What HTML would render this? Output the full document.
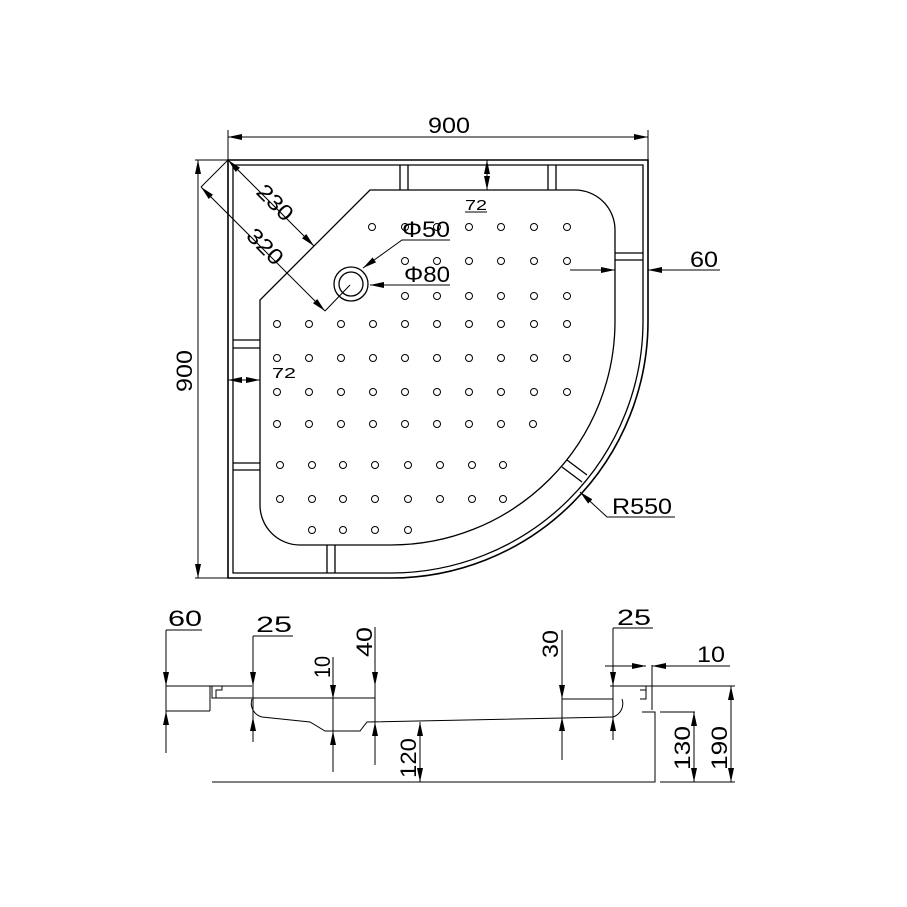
<!DOCTYPE html>
<html><head><meta charset="utf-8"><style>html,body{margin:0;padding:0;background:#fff}svg{display:block}text{font-family:"Liberation Sans",sans-serif;font-size:22px;fill:#000}</style></head>
<body>
<svg width="907" height="907" viewBox="0 0 907 907" xmlns="http://www.w3.org/2000/svg">
<defs>
<marker id="a" viewBox="0 0 14 6" refX="14" refY="3" markerWidth="14" markerHeight="6" markerUnits="userSpaceOnUse" orient="auto-start-reverse"><path d="M0,0L14,3L0,6Z" fill="#000"/></marker>
</defs>
<g fill="none" stroke="#000" stroke-width="1.3">
<!-- outer -->
<path d="M228,160H648V321A257,257 0 0 1 391,578H228Z" stroke-width="1.6"/>
<path d="M233,165H643V321A252,252 0 0 1 391,573H233Z"/>
<!-- tray -->
<path d="M370,190H575A40,40 0 0 1 615,230V321A224,224 0 0 1 391,545H300A40,40 0 0 1 260,505V300Z"/>
<!-- ribs -->
<path d="M400,165V190M408,165V190M548,165V190M556,165V190M615,253H643M615,260H643M233,340H260M233,348H260M233,463H260M233,470H260M327,545V573M335,545V573M567,460L587,475M562,467L582,482"/>
<!-- drain -->
<circle cx="351" cy="284" r="17"/><circle cx="351" cy="284" r="12"/>
</g>
<g fill="none" stroke="#000" stroke-width="1">
<!-- dots -->
<g id="d">
<circle cx="372" cy="227" r="3.5"/><circle cx="405" cy="227" r="3.5"/><circle cx="437" cy="227" r="3.5"/><circle cx="469" cy="227" r="3.5"/><circle cx="501" cy="227" r="3.5"/><circle cx="534" cy="227" r="3.5"/><circle cx="567" cy="227" r="3.5"/>
<circle cx="405" cy="261" r="3.5"/><circle cx="437" cy="261" r="3.5"/><circle cx="469" cy="261" r="3.5"/><circle cx="501" cy="261" r="3.5"/><circle cx="534" cy="261" r="3.5"/><circle cx="567" cy="261" r="3.5"/>
<circle cx="405" cy="296" r="3.5"/><circle cx="437" cy="296" r="3.5"/><circle cx="469" cy="296" r="3.5"/><circle cx="501" cy="296" r="3.5"/><circle cx="534" cy="296" r="3.5"/><circle cx="567" cy="296" r="3.5"/>
</g>
<g id="r10"><circle cx="277" cy="324" r="3.5"/><circle cx="309" cy="324" r="3.5"/><circle cx="341" cy="324" r="3.5"/><circle cx="373" cy="324" r="3.5"/><circle cx="405" cy="324" r="3.5"/><circle cx="437" cy="324" r="3.5"/><circle cx="469" cy="324" r="3.5"/><circle cx="501" cy="324" r="3.5"/><circle cx="534" cy="324" r="3.5"/><circle cx="567" cy="324" r="3.5"/></g>
<use href="#r10" y="34"/><use href="#r10" y="68"/>
<g transform="translate(0,100)"><circle cx="277" cy="324" r="3.5"/><circle cx="309" cy="324" r="3.5"/><circle cx="341" cy="324" r="3.5"/><circle cx="373" cy="324" r="3.5"/><circle cx="405" cy="324" r="3.5"/><circle cx="437" cy="324" r="3.5"/><circle cx="469" cy="324" r="3.5"/><circle cx="501" cy="324" r="3.5"/><circle cx="533" cy="324" r="3.5"/></g>
<g id="r8"><circle cx="280" cy="465" r="3.5"/><circle cx="312" cy="465" r="3.5"/><circle cx="343" cy="465" r="3.5"/><circle cx="375" cy="465" r="3.5"/><circle cx="408" cy="465" r="3.5"/><circle cx="440" cy="465" r="3.5"/><circle cx="472" cy="465" r="3.5"/><circle cx="503" cy="465" r="3.5"/></g>
<use href="#r8" y="34"/>
<circle cx="312" cy="530" r="3.5"/><circle cx="343" cy="530" r="3.5"/><circle cx="375" cy="530" r="3.5"/><circle cx="408" cy="530" r="3.5"/>
<!-- dimension lines top view -->
<path d="M228,130V160M648,130V160M195,160H228M195,578H228"/>
<path d="M228,137H648" marker-start="url(#a)" marker-end="url(#a)"/>
<path d="M198,160V578" marker-start="url(#a)" marker-end="url(#a)"/>
<path d="M228,160L314,246" marker-start="url(#a)" marker-end="url(#a)"/>
<path d="M228,160L201,187"/>
<path d="M201,187L325,311" marker-start="url(#a)" marker-end="url(#a)"/>
<path d="M325,311L350,285"/>
<path d="M450,240H402L363,268" marker-end="url(#a)"/>
<path d="M450,285H370" marker-end="url(#a)"/>
<path d="M487,160V190" marker-start="url(#a)" marker-end="url(#a)"/>
<path d="M465,212H487"/>
<path d="M228,380H260" marker-start="url(#a)" marker-end="url(#a)"/>
<path d="M570,270H615" marker-end="url(#a)"/><path d="M720,270H648" marker-end="url(#a)"/>
<path d="M675,517H607L580,492" marker-end="url(#a)"/>
<!-- section -->
<path d="M166,686H252M166,711H210M210,686V711M212,686V698H216V690H222V686M216,698H375M252,699A14,14 0 0 0 262,717L310,722L325,731H360L367,722L613,717M212,782H650"/>
<path d="M610,686H735M613,699H562M640,690H646V686M613,717A14,14 0 0 0 622,699M646,686V699H640M652,665V710M642,712H655V782H642M660,712H695M660,782H735"/>
<path d="M166,630V753M166,630H202M253,636V742M253,636H293M333,657V772M375,627V765M420,722V782M562,630V760M613,628V740M613,628H653"/>
<path d="M166,665V686" marker-end="url(#a)"/><path d="M166,732V711" marker-end="url(#a)"/>
<path d="M253,665V686" marker-end="url(#a)"/><path d="M253,740V717" marker-end="url(#a)"/>
<path d="M333,680V699" marker-end="url(#a)"/><path d="M333,752V731" marker-end="url(#a)"/>
<path d="M375,660V686" marker-end="url(#a)"/><path d="M375,745V722" marker-end="url(#a)"/>
<path d="M420,722V782" marker-start="url(#a)" marker-end="url(#a)"/>
<path d="M562,675V699" marker-end="url(#a)"/><path d="M562,740V717" marker-end="url(#a)"/>
<path d="M613,665V686" marker-end="url(#a)"/><path d="M613,735V717" marker-end="url(#a)"/>
<path d="M605,666H646" marker-end="url(#a)"/><path d="M730,666H652" marker-end="url(#a)"/>
<path d="M694,712V782" marker-start="url(#a)" marker-end="url(#a)"/>
<path d="M731,686V782" marker-start="url(#a)" marker-end="url(#a)"/>
</g>
<g>
<text x="428" y="133" textLength="42" lengthAdjust="spacingAndGlyphs">900</text>
<text transform="translate(192,392) rotate(-90)" textLength="42" lengthAdjust="spacingAndGlyphs">900</text>
<text transform="translate(255,193) rotate(45)" textLength="42" lengthAdjust="spacingAndGlyphs">230</text>
<text transform="translate(245,237) rotate(45)" textLength="42" lengthAdjust="spacingAndGlyphs">320</text>
<text x="402" y="237" textLength="48" lengthAdjust="spacingAndGlyphs">Φ50</text>
<text x="404" y="282" textLength="46" lengthAdjust="spacingAndGlyphs">Φ80</text>
<text x="465" y="210" style="font-size:15px" textLength="22" lengthAdjust="spacingAndGlyphs">72</text>
<text x="272" y="378" style="font-size:15px" textLength="24" lengthAdjust="spacingAndGlyphs">72</text>
<text x="690" y="267" textLength="28" lengthAdjust="spacingAndGlyphs">60</text>
<text x="612" y="514" textLength="60" lengthAdjust="spacingAndGlyphs">R550</text>
<text x="168" y="626" textLength="34" lengthAdjust="spacingAndGlyphs">60</text>
<text x="256" y="632" textLength="36" lengthAdjust="spacingAndGlyphs">25</text>
<text transform="translate(330,678) rotate(-90)" textLength="22" lengthAdjust="spacingAndGlyphs">10</text>
<text transform="translate(372,657) rotate(-90)" textLength="30" lengthAdjust="spacingAndGlyphs">40</text>
<text transform="translate(416,778) rotate(-90)" textLength="40" lengthAdjust="spacingAndGlyphs">120</text>
<text transform="translate(558,658) rotate(-90)" textLength="28" lengthAdjust="spacingAndGlyphs">30</text>
<text x="617" y="625" textLength="34" lengthAdjust="spacingAndGlyphs">25</text>
<text x="697" y="662" textLength="28" lengthAdjust="spacingAndGlyphs">10</text>
<text transform="translate(690,770) rotate(-90)" textLength="44" lengthAdjust="spacingAndGlyphs">130</text>
<text transform="translate(727,770) rotate(-90)" textLength="44" lengthAdjust="spacingAndGlyphs">190</text>
</g>
</svg>
</body></html>
